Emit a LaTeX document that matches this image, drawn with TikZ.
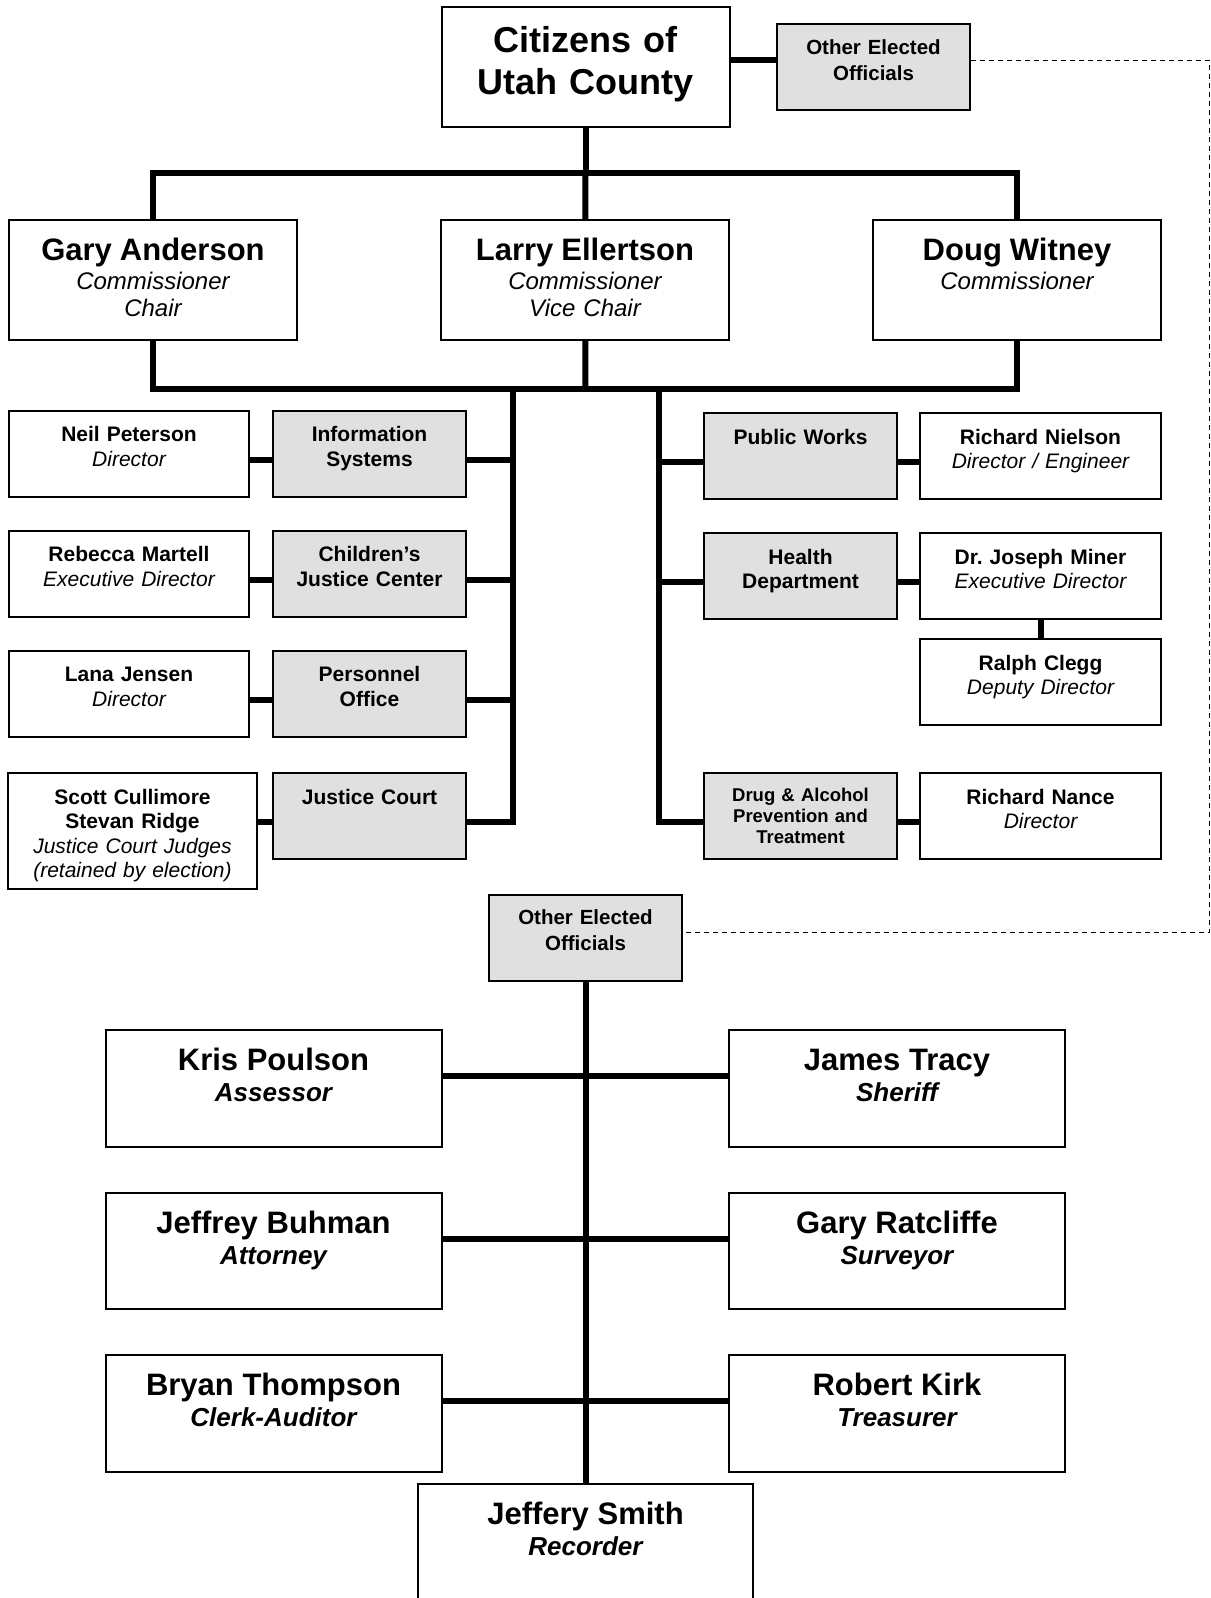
\documentclass[tikz,border=0pt]{standalone}
\usepackage{fontspec}
\setmainfont{Liberation Sans}
\usepackage{tikz}
\usetikzlibrary{positioning}
\definecolor{boxgrey}{HTML}{E0E0E0}
\newcommand{\fsz}[2]{\fontsize{#1}{#2}\selectfont}

\begin{document}
\begin{tikzpicture}[x=1pt, y=-1pt,
  box/.style={draw, line width=2pt, fill=white, inner sep=0pt, align=center},
  shaded/.style={fill=boxgrey},
  conn/.style={line width=6pt},
  link/.style={line width=1pt, dash pattern=on 5pt off 4pt},
  topbox/.style={box, text width=288pt, text height=45.5pt, text depth=74pt,
    font=\fsz{36}{42}\bfseries},
  other/.style={box, shaded, text width=193pt, text height=30pt, text depth=56pt,
    font=\fsz{20.5}{26}\bfseries},
  comm/.style={box, text width=288pt, text height=40.5pt, text depth=79.5pt,
    font=\fsz{24}{27}\itshape},
  unit/.style={box, text height=31pt, text depth=55pt, font=\fsz{21}{24.5}},
  head/.style={unit, text width=240pt},
  dept/.style={unit, shaded, text width=193pt, font=\fsz{21}{24.5}\bfseries},
  elect/.style={box, text width=336pt, text height=40.5pt, text depth=76pt,
    font=\fsz{26}{31}\bfseries}]
  \useasboundingbox (0,0) rectangle (1210,1598);
  % citizens and other elected officials
  \node[topbox] (citizens) at (585.5,67) {Citizens of\\Utah County};
  \node[other] (othertop) at (873.5,67) {Other Elected\\Officials};
  % commissioners
  \node[comm] (gary) at (153,280) {{\fsz{31}{35}\upshape\bfseries Gary Anderson}\\[2pt]Commissioner\\Chair};
  \node[comm] (larry) at (585,280) {{\fsz{31}{35}\upshape\bfseries Larry Ellertson}\\[2pt]Commissioner\\Vice Chair};
  \node[comm] (doug) at (1017,280) {{\fsz{31}{35}\upshape\bfseries Doug Witney}\\[2pt]Commissioner};
  % departments, left side
  \node[head] (neil) at (129,453.5) {\textbf{Neil Peterson}\\\itshape Director};
  \node[dept] (is) at (369.5,453.5) {Information\\Systems};
  \node[head] (martell) at (129,573.7) {\textbf{Rebecca Martell}\\\itshape Executive Director};
  \node[dept] (cjc) at (369.5,573.7) {Children’s\\Justice Center};
  \node[head] (jensen) at (129,693.7) {\textbf{Lana Jensen}\\\itshape Director};
  \node[dept] (po) at (369.5,693.7) {Personnel\\Office};
  \node[head, text width=249pt, text depth=85pt] (judges) at (132.5,831)
    {\textbf{Scott Cullimore}\\\textbf{Stevan Ridge}\\\itshape Justice Court Judges\\(retained by election)};
  \node[dept] (jc) at (369.5,816) {Justice Court};
  % departments, right side
  \node[dept] (pw) at (800.5,456) {Public Works};
  \node[head, text width=241pt] (nielson) at (1040.5,456) {\textbf{Richard Nielson}\\\itshape Director / Engineer};
  \node[dept] (health) at (800.5,576) {Health\\Department};
  \node[head, text width=241pt] (miner) at (1040.5,576) {\textbf{Dr.\ Joseph Miner}\\\itshape Executive Director};
  \node[head, text width=241pt] (clegg) at (1040.5,682) {\textbf{Ralph Clegg}\\\itshape Deputy Director};
  \node[dept, text height=28pt, text depth=58pt, font=\fsz{18.5}{21.3}\bfseries] (drug) at (800.5,816)
    {Drug \& Alcohol\\Prevention and\\Treatment};
  \node[head, text width=241pt] (nance) at (1040.5,816) {\textbf{Richard Nance}\\\itshape Director};
  % other elected officials
  \node[other] (otherbot) at (585.5,937.5) {Other Elected\\Officials};
  \node[elect] (poulson) at (273.5,1088.3) {{\fsz{31}{35}Kris Poulson}\\\itshape Assessor};
  \node[elect] (tracy) at (897,1088.3) {{\fsz{31}{35}James Tracy}\\\itshape Sheriff};
  \node[elect] (buhman) at (273.5,1251) {{\fsz{31}{35}Jeffrey Buhman}\\\itshape Attorney};
  \node[elect] (ratcliffe) at (897,1251) {{\fsz{31}{35}Gary Ratcliffe}\\\itshape Surveyor};
  \node[elect] (thompson) at (273.5,1413.4) {{\fsz{31}{35}Bryan Thompson}\\\itshape Clerk-Auditor};
  \node[elect] (kirk) at (897,1413.4) {{\fsz{31}{35}Robert Kirk}\\\itshape Treasurer};
  \node[elect, text width=335pt] (smith) at (585.5,1542) {{\fsz{31}{35}Jeffery Smith}\\\itshape Recorder};
  % connectors
  \coordinate (topbus) at (585.5,173);
  \coordinate (midbus) at (585.5,389);
  \coordinate (ltrunk) at (512.5,389);
  \coordinate (rtrunk) at (659,389);
  \coordinate (dashx) at (1209,500);
  \draw[conn] ([yshift=7pt]citizens.east) -- ([yshift=7pt]othertop.west);
  \draw[conn] (citizens) -- (topbus);
  \draw[conn] (gary.north) |- (topbus) -| (doug.north);
  \draw[conn] (larry) -- (topbus);
  \draw[conn] (gary.south) |- (midbus) -| (doug.south);
  \draw[conn] (larry) -- (midbus);
  \foreach \dep in {is,cjc,po,jc}
    \draw[conn] ([yshift=-6pt]\dep.east) -| (ltrunk);
  \foreach \dep in {pw,health,drug}
    \draw[conn] ([yshift=-6pt]\dep.west) -| (rtrunk);
  \foreach \hd/\dep in {neil/is,martell/cjc,jensen/po}
    \draw[conn] ([yshift=-6pt]\hd.east) -- ([yshift=-6pt]\dep.west);
  \draw[conn] ([yshift=-6pt]jc.west) -- ([yshift=-6pt]jc.west -| judges.east);
  \foreach \dep/\hd in {pw/nielson,health/miner,drug/nance}
    \draw[conn] ([yshift=-6pt]\dep.east) -- ([yshift=-6pt]\hd.west);
  \draw[conn] (miner) -- (clegg);
  \draw[link] ([yshift=7pt]othertop.east) -| (dashx) |- ([yshift=5pt]otherbot.east);
  \draw[conn] (otherbot) -- (smith);
  \foreach \lft/\rgt in {poulson/tracy,buhman/ratcliffe,thompson/kirk}
    \draw[conn] ([yshift=12pt]\lft.east) -- ([yshift=12pt]\rgt.west);
\end{tikzpicture}
\end{document}
